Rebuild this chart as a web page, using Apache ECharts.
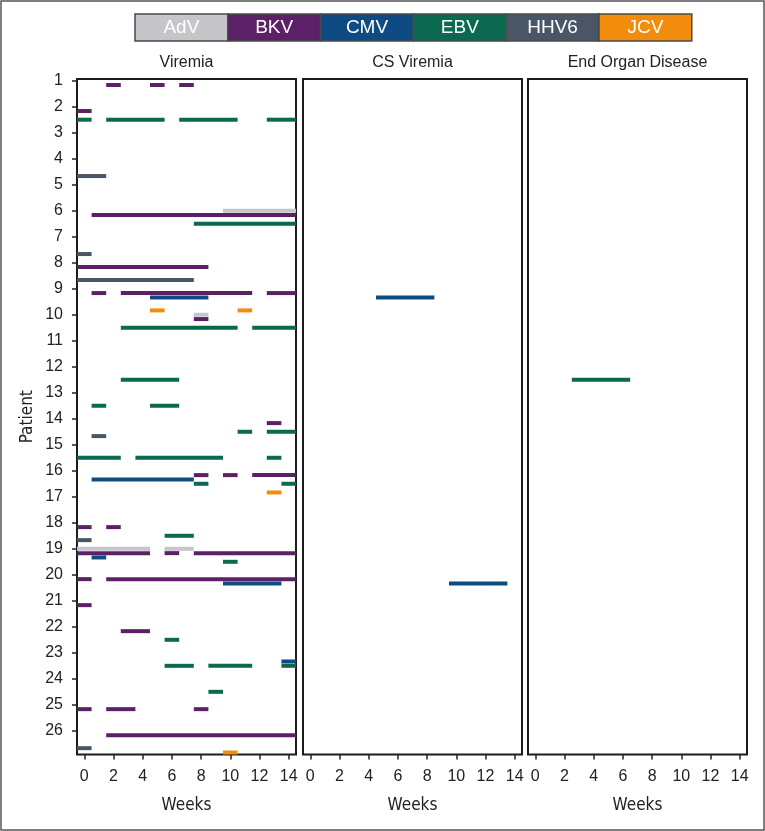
<!DOCTYPE html>
<html>
<head>
<meta charset="utf-8">
<script src="https://cdn.jsdelivr.net/npm/echarts@6/dist/echarts.min.js"></script>
<style>
  html, body { margin: 0; padding: 0; background: #fff; }
  #box { width: 765px; height: 831px; }
</style>
</head>
<body>
<div id="box"></div>
<script>
// virus order also sets the offset inside each patient row
const viruses = ["AdV", "BKV", "CMV", "EBV", "HHV6", "JCV"];
const virusColors = ["#c6c5ca", "#5c2067", "#0e4b82", "#0b6950", "#4a5565", "#f18c0c"];
const panelNames = ["Viremia", "CS Viremia", "End Organ Disease"];
const patients = [1, 2, 3, 4, 5, 6, 7, 8, 9, 10, 11, 12, 13, 14, 15, 16, 17, 18, 19, 20, 21, 22, 23, 24, 25, 26];
const weekTicks = [0, 2, 4, 6, 8, 10, 12, 14];

// [patient, virus, fromWeek, toWeek]
const viremia = [
  [1, "BKV", 1.5, 2.5], [1, "BKV", 4.5, 5.5], [1, "BKV", 6.5, 7.5],
  [2, "BKV", -0.5, 0.5],
  [2, "EBV", -0.5, 0.5], [2, "EBV", 1.5, 5.5], [2, "EBV", 6.5, 10.5], [2, "EBV", 12.5, 14.5],
  [4, "HHV6", -0.5, 1.5],
  [6, "AdV", 9.5, 14.5], [6, "BKV", 0.5, 14.5], [6, "EBV", 7.5, 14.5],
  [7, "HHV6", -0.5, 0.5],
  [8, "BKV", -0.5, 8.5], [8, "HHV6", -0.5, 7.5],
  [9, "BKV", 0.5, 1.5], [9, "BKV", 2.5, 11.5], [9, "BKV", 12.5, 14.5],
  [9, "CMV", 4.5, 8.5],
  [9, "JCV", 4.5, 5.5], [9, "JCV", 10.5, 11.5],
  [10, "AdV", 7.5, 8.5], [10, "BKV", 7.5, 8.5],
  [10, "EBV", 2.5, 10.5], [10, "EBV", 11.5, 14.5],
  [12, "EBV", 2.5, 6.5],
  [13, "EBV", 0.5, 1.5], [13, "EBV", 4.5, 6.5],
  [14, "BKV", 12.5, 13.5],
  [14, "EBV", 10.5, 11.5], [14, "EBV", 12.5, 14.5],
  [14, "HHV6", 0.5, 1.5],
  [15, "EBV", -0.5, 2.5], [15, "EBV", 3.5, 9.5], [15, "EBV", 12.5, 13.5],
  [16, "BKV", 7.5, 8.5], [16, "BKV", 9.5, 10.5], [16, "BKV", 11.5, 14.5],
  [16, "CMV", 0.5, 7.5],
  [16, "EBV", 7.5, 8.5], [16, "EBV", 13.5, 14.5],
  [16, "JCV", 12.5, 13.5],
  [18, "BKV", -0.5, 0.5], [18, "BKV", 1.5, 2.5],
  [18, "EBV", 5.5, 7.5],
  [18, "HHV6", -0.5, 0.5],
  [19, "AdV", -0.5, 4.5], [19, "AdV", 5.5, 7.5],
  [19, "BKV", -0.5, 4.5], [19, "BKV", 5.5, 6.5], [19, "BKV", 7.5, 14.5],
  [19, "CMV", 0.5, 1.5],
  [19, "EBV", 9.5, 10.5],
  [20, "BKV", -0.5, 0.5], [20, "BKV", 1.5, 14.5],
  [20, "CMV", 9.5, 13.5],
  [21, "BKV", -0.5, 0.5],
  [22, "BKV", 2.5, 4.5],
  [22, "EBV", 5.5, 6.5],
  [23, "CMV", 13.5, 14.5],
  [23, "EBV", 5.5, 7.5], [23, "EBV", 8.5, 11.5], [23, "EBV", 13.5, 14.5],
  [24, "EBV", 8.5, 9.5],
  [25, "BKV", -0.5, 0.5], [25, "BKV", 1.5, 3.5], [25, "BKV", 7.5, 8.5],
  [26, "BKV", 1.5, 14.5],
  [26, "HHV6", -0.5, 0.5],
  [26, "JCV", 9.5, 10.5]
];
const csViremia = [
  [9, "CMV", 4.5, 8.5],
  [20, "CMV", 9.5, 13.5]
];
const endOrgan = [
  [12, "EBV", 2.5, 6.5]
];
const panelData = [viremia, csViremia, endOrgan];

const numFont = "'Liberation Sans', Arial, sans-serif";
const narrowFont = "'Liberation Sans Narrow', 'Arial Narrow', 'DejaVu Sans Condensed', sans-serif";

let chart = echarts.init(document.getElementById("box"), null, { renderer: "canvas" });

let gridLeft = [77, 303, 528],
  gridW = 219,
  gridTop = 79,
  gridH = 675.5;

let grids = [], xAxes = [], yAxes = [], series = [], graphics = [];

panelNames.forEach((name, i) => {
  grids.push({
    left: gridLeft[i], top: gridTop, width: gridW, height: gridH,
    show: true, borderColor: "#1c1c1c", borderWidth: 2, backgroundColor: "#fff"
  });
  xAxes.push({
    gridIndex: i, type: "value", min: -0.5, max: 14.5,
    splitLine: { show: false },
    axisLine: { show: false, onZero: false },
    axisTick: { show: true, customValues: weekTicks, length: 5, lineStyle: { color: "#222", width: 1.5 } },
    axisLabel: { customValues: weekTicks, margin: 14, fontSize: 16, color: "#222", fontFamily: numFont },
    name: "Weeks", nameLocation: "middle", nameGap: 43,
    nameTextStyle: { fontSize: 17, color: "#222", fontFamily: narrowFont }
  });
  yAxes.push({
    gridIndex: i, type: "value", inverse: true, min: 0.935, max: 26.91,
    splitLine: { show: false },
    axisLine: { show: false, onZero: false },
    axisTick: { show: i === 0, customValues: patients, length: 5, lineStyle: { color: "#222", width: 1.5 } },
    axisLabel: { show: i === 0, customValues: patients, margin: 14, fontSize: 16, color: "#222", fontFamily: numFont },
    name: i === 0 ? "Patient" : "", nameLocation: "middle", nameGap: 41,
    nameTextStyle: { fontSize: 17, color: "#222", fontFamily: narrowFont }
  });
  series.push({
    type: "custom",
    xAxisIndex: i, yAxisIndex: i,
    silent: true,
    encode: { x: [0, 1], y: 2 },
    data: panelData[i].map(d => {
      let v = viruses.indexOf(d[1]);
      return [d[2], d[3], d[0] + v / 6, v];
    }),
    renderItem: function (params, api) {
      let a = api.coord([api.value(0), api.value(2)]),
        b = api.coord([api.value(1), api.value(2)]);
      return {
        type: "rect",
        shape: { x: a[0], y: a[1] - 2, width: b[0] - a[0], height: 4 },
        style: { fill: virusColors[api.value(3)] }
      };
    }
  });
  // panel title
  graphics.push({
    type: "text", x: gridLeft[i] + gridW / 2, y: 63,
    style: { text: name, textAlign: "center", textVerticalAlign: "middle", fontSize: 16, fill: "#222", fontFamily: numFont }
  });
});

// legend boxes
let legX = 135, legW = 92.8;
viruses.forEach((v, i) => {
  graphics.push({
    type: "rect",
    shape: { x: legX + i * legW, y: 14, width: legW, height: 27 },
    style: { fill: virusColors[i], stroke: "#4a4a4a", lineWidth: 1.5 }
  });
  graphics.push({
    type: "text", x: legX + i * legW + legW / 2, y: 28,
    style: { text: v, textAlign: "center", textVerticalAlign: "middle", fontSize: 19, fill: "#fff", fontFamily: numFont }
  });
});

// outer frame
graphics.push({
  type: "rect", shape: { x: 1, y: 1, width: 763, height: 829 },
  style: { fill: null, stroke: "#555", lineWidth: 1.5 }
});

chart.setOption({
  animation: false,
  backgroundColor: "#fff",
  grid: grids,
  xAxis: xAxes,
  yAxis: yAxes,
  series: series,
  graphic: graphics
});
</script>
</body>
</html>
